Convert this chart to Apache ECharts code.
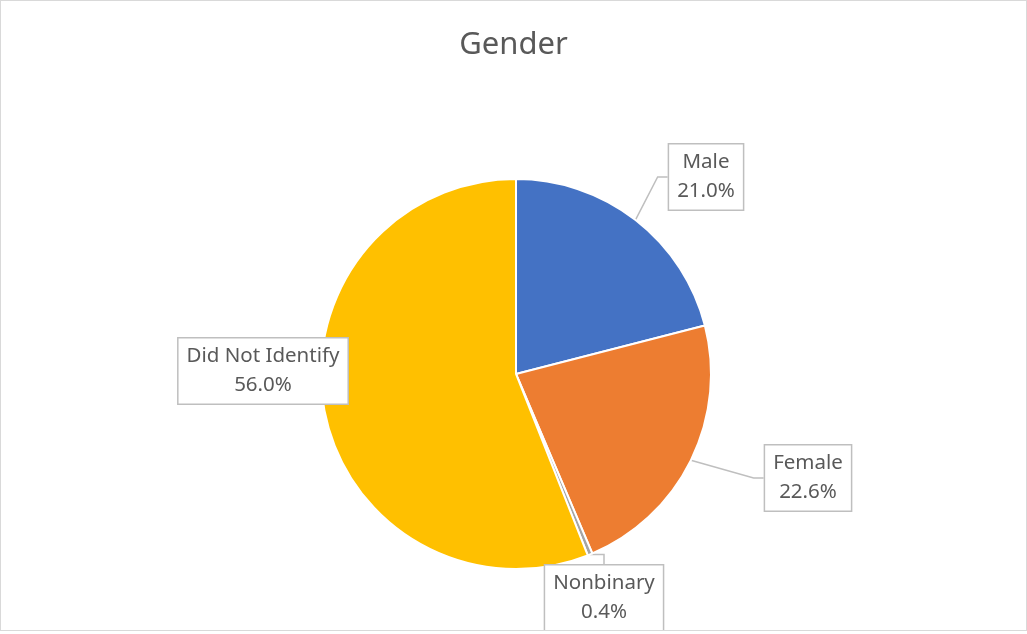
<!DOCTYPE html>
<html>
<head>
<meta charset="utf-8">
<script src="https://cdn.jsdelivr.net/npm/echarts@6/dist/echarts.min.js"></script>
<style>
  html, body { margin: 0; padding: 0; background: #ffffff; }
  #chart { width: 1025px; height: 629px; border: 1px solid #D9D9D9; }
</style>
</head>
<body>
<div id="chart"></div>
<script>
const categories = ['Male', 'Female', 'Nonbinary', 'Did Not Identify'];
const values = [21.0, 22.6, 0.4, 56.0];
const colors = ['#4472C4', '#ED7D31', '#A5A5A5', '#FFC000'];
const titleText = 'Gender';

// Manually placed callout label centres (style / layout, like Excel's dragged labels)
const labelSpots = [[705, 176], [807, 477], [603, 597], [262, 370]];

const chart = echarts.init(document.getElementById('chart'), null, { renderer: 'canvas' });

const option = {
  backgroundColor: '#ffffff',
  animation: false,
  title: {
    text: titleText,
    left: 'center',
    top: 24,
    textStyle: { fontFamily: 'Noto Sans', fontSize: 31, fontWeight: 'normal', color: '#595959' }
  },
  series: [{
    type: 'pie',
    center: [515, 373],
    radius: 195,
    startAngle: 90,
    clockwise: true,
    data: categories.map((c, i) => ({ name: c, value: values[i], itemStyle: { color: colors[i] } })),
    itemStyle: { borderColor: '#ffffff', borderWidth: 2 },
    label: {
      show: true,
      position: 'outside',
      formatter: p => p.name + '\n' + p.value.toFixed(1) + '%',
      fontFamily: 'Noto Sans',
      fontSize: 20.5,
      lineHeight: 29,
      color: '#595959',
      backgroundColor: '#ffffff',
      borderColor: '#BFBFBF',
      borderWidth: 1.5,
      padding: [4, 8, 3, 8],
      align: 'center'
    },
    labelLine: {
      show: true,
      length: 10,
      length2: 10,
      lineStyle: { color: '#BFBFBF', width: 1.5 }
    },
    labelLayout: function (params) {
      const s = labelSpots[params.dataIndex];
      return { x: s[0], y: s[1], align: 'center', verticalAlign: 'middle' };
    },
    emphasis: { disabled: true }
  }]
};

chart.setOption(option);
</script>
</body>
</html>
